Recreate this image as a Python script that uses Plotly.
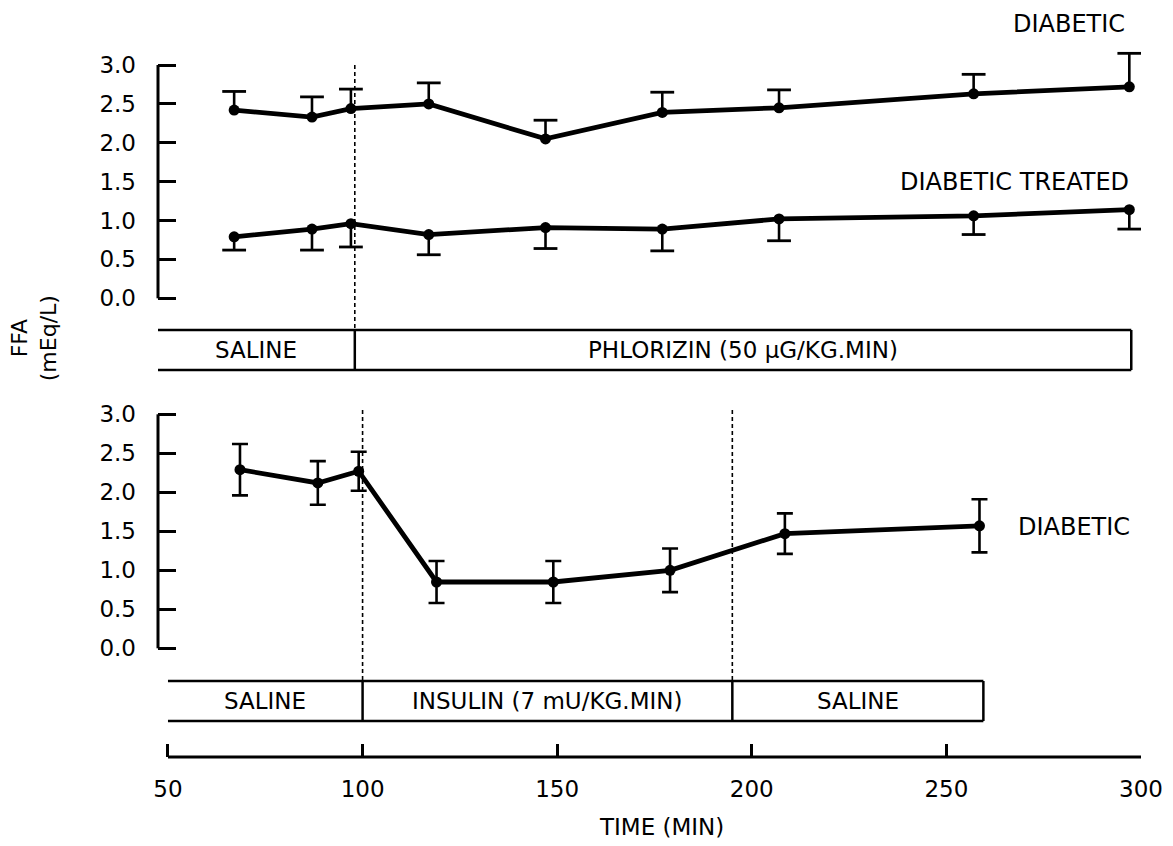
import plotly.graph_objects as go

# ---------------- data ----------------
top_time = [67, 87, 97, 117, 147, 177, 207, 257, 297]
diabetic_top = [2.42, 2.33, 2.44, 2.50, 2.05, 2.39, 2.45, 2.63, 2.72]
diabetic_top_err = [0.24, 0.26, 0.25, 0.27, 0.24, 0.26, 0.23, 0.25, 0.43]
treated_top = [0.79, 0.89, 0.96, 0.82, 0.91, 0.89, 1.02, 1.06, 1.14]
treated_top_err = [0.17, 0.27, 0.30, 0.26, 0.27, 0.28, 0.28, 0.24, 0.25]

bottom_time = [68.5, 88.5, 99, 119, 149, 179, 208.5, 258.5]
diabetic_bottom = [2.29, 2.12, 2.27, 0.85, 0.85, 1.00, 1.47, 1.57]
diabetic_bottom_err = [0.33, 0.28, 0.25, 0.27, 0.27, 0.28, 0.26, 0.34]

x_ticks = [50, 100, 150, 200, 250, 300]
y_ticks = [0.0, 0.5, 1.0, 1.5, 2.0, 2.5, 3.0]
y_tick_labels = ["0.0", "0.5", "1.0", "1.5", "2.0", "2.5", "3.0"]

top_bounds = [47.4, 98, 297.5]
top_labels = ["SALINE", "PHLORIZIN (50 \u03bcG/KG.MIN)"]
bottom_bounds = [50, 100, 195, 259.5]
bottom_labels = ["SALINE", "INSULIN (7 mU/KG.MIN)", "SALINE"]
top_switch = [98]
bottom_switch = [100, 195]

# ---------------- geometry ----------------
W, H = 1173, 846
ML, MR, MT, MB = 158, 30, 10, 89
PLOT_H = H - MT - MB
FONT = "DejaVu Sans"
BLACK = "black"


def pp(py):
    """pixel row -> paper fraction"""
    return (H - MB - py) / PLOT_H


def domain_for(px_zero, px_three, lo, hi):
    k = (px_zero - px_three) / 3.0
    return [pp(px_zero - lo * k), pp(px_zero - hi * k)]


top_range = [-0.15, 3.45]
bot_range = [-0.15, 3.3]
top_domain = domain_for(298.3, 65.0, *top_range)
bot_domain = domain_for(648.3, 414.3, *bot_range)

fig = go.Figure()


def series_with_caps(x, y, err, up, yaxis):
    fig.add_trace(go.Scatter(
        x=x, y=y, mode="lines+markers", yaxis=yaxis, showlegend=False,
        line=dict(color=BLACK, width=4.8),
        marker=dict(color=BLACK, size=11),
        error_y=dict(type="data", symmetric=False,
                     array=err if up else [0] * len(err),
                     arrayminus=[0] * len(err) if up else err,
                     color=BLACK, thickness=2.6, width=0),
    ))
    tips = [v + e if up else v - e for v, e in zip(y, err)]
    fig.add_trace(go.Scatter(
        x=x, y=tips, mode="markers", yaxis=yaxis, showlegend=False,
        marker=dict(symbol="line-ew", size=17, color=BLACK,
                    line=dict(color=BLACK, width=2.8)),
    ))


series_with_caps(top_time, diabetic_top, diabetic_top_err, True, "y")
series_with_caps(top_time, treated_top, treated_top_err, False, "y")

fig.add_trace(go.Scatter(
    x=bottom_time, y=diabetic_bottom, mode="lines+markers", yaxis="y2",
    showlegend=False,
    line=dict(color=BLACK, width=4.8),
    marker=dict(color=BLACK, size=11),
    error_y=dict(type="data", array=diabetic_bottom_err, color=BLACK,
                 thickness=2.6, width=8),
))

shapes = []
# y-axis lines (0 .. 3.0) for both panels
for yref in ("y", "y2"):
    shapes.append(dict(type="line", xref="paper", yref=yref, x0=0, x1=0,
                       y0=y_ticks[0], y1=y_ticks[-1],
                       line=dict(color=BLACK, width=3)))
# x-axis line
shapes.append(dict(type="line", xref="x", yref="paper", x0=x_ticks[0],
                   x1=x_ticks[-1], y0=0, y1=0,
                   line=dict(color=BLACK, width=3)))

# dashed switch lines
for xs in top_switch:
    shapes.append(dict(type="line", xref="x", yref="paper", x0=xs, x1=xs,
                       y0=pp(65), y1=pp(330),
                       line=dict(color=BLACK, width=1.6, dash="4px,3px")))
for xs in bottom_switch:
    shapes.append(dict(type="line", xref="x", yref="paper", x0=xs, x1=xs,
                       y0=pp(410), y1=pp(681),
                       line=dict(color=BLACK, width=1.6, dash="4px,3px")))

annotations = []


def treatment_bar(bounds, labels, py_top, py_bot):
    y0, y1 = pp(py_bot), pp(py_top)
    for yy in (y0, y1):
        shapes.append(dict(type="line", xref="x", yref="paper",
                           x0=bounds[0], x1=bounds[-1], y0=yy, y1=yy,
                           line=dict(color=BLACK, width=2.5)))
    for b in bounds[1:]:
        shapes.append(dict(type="line", xref="x", yref="paper",
                           x0=b, x1=b, y0=y0, y1=y1,
                           line=dict(color=BLACK, width=2.5)))
    for lab, a, b in zip(labels, bounds[:-1], bounds[1:]):
        annotations.append(dict(text=lab, xref="x", yref="paper",
                                x=(a + b) / 2, y=(y0 + y1) / 2,
                                xanchor="center", yanchor="middle",
                                showarrow=False,
                                font=dict(family=FONT, size=23, color=BLACK)))


treatment_bar(top_bounds, top_labels, 330, 370)
treatment_bar(bottom_bounds, bottom_labels, 681, 721)

label_font = dict(family=FONT, size=24, color=BLACK)
annotations += [
    dict(text="DIABETIC", xref="x", yref="paper", x=296.5, y=pp(24),
         xanchor="right", yanchor="middle", showarrow=False, font=label_font),
    dict(text="DIABETIC TREATED", xref="x", yref="paper", x=297.5,
         y=pp(182), xanchor="right", yanchor="middle", showarrow=False,
         font=label_font),
    dict(text="DIABETIC", xref="x", yref="paper", x=268, y=pp(527),
         xanchor="left", yanchor="middle", showarrow=False, font=label_font),
    dict(text="TIME (MIN)", xref="x", yref="paper", x=176.7, y=pp(827),
         xanchor="center", yanchor="middle", showarrow=False,
         font=dict(family=FONT, size=23, color=BLACK)),
    dict(text="FFA<br>(mEq/L)", xref="paper", yref="paper",
         x=(34 - ML) / (W - ML - MR), y=pp(338), textangle=-90,
         xanchor="center", yanchor="middle",
         showarrow=False, font=dict(family=FONT, size=22, color=BLACK)),
]

common_y = dict(tickvals=y_ticks, ticktext=y_tick_labels, ticks="inside",
                ticklen=18, tickwidth=3, tickcolor=BLACK, showline=False,
                showgrid=False, zeroline=False, ticklabelstandoff=21,
                tickfont=dict(family=FONT, size=23, color=BLACK))

fig.update_layout(
    width=W, height=H,
    margin=dict(l=ML, r=MR, t=MT, b=MB),
    paper_bgcolor="white", plot_bgcolor="white",
    font=dict(family=FONT, color=BLACK),
    xaxis=dict(range=[50 - 10 / 3.9, 300], tickvals=x_ticks,
               ticks="inside", ticklen=13, tickwidth=2.5, tickcolor=BLACK,
               showline=False, showgrid=False, zeroline=False,
               anchor="free", position=0, ticklabelstandoff=16,
               tickfont=dict(family=FONT, size=23, color=BLACK)),
    yaxis=dict(range=top_range, domain=top_domain, anchor="x", **common_y),
    yaxis2=dict(range=bot_range, domain=bot_domain, anchor="x", **common_y),
    shapes=shapes,
    annotations=annotations,
)

fig.write_html("out.html")
